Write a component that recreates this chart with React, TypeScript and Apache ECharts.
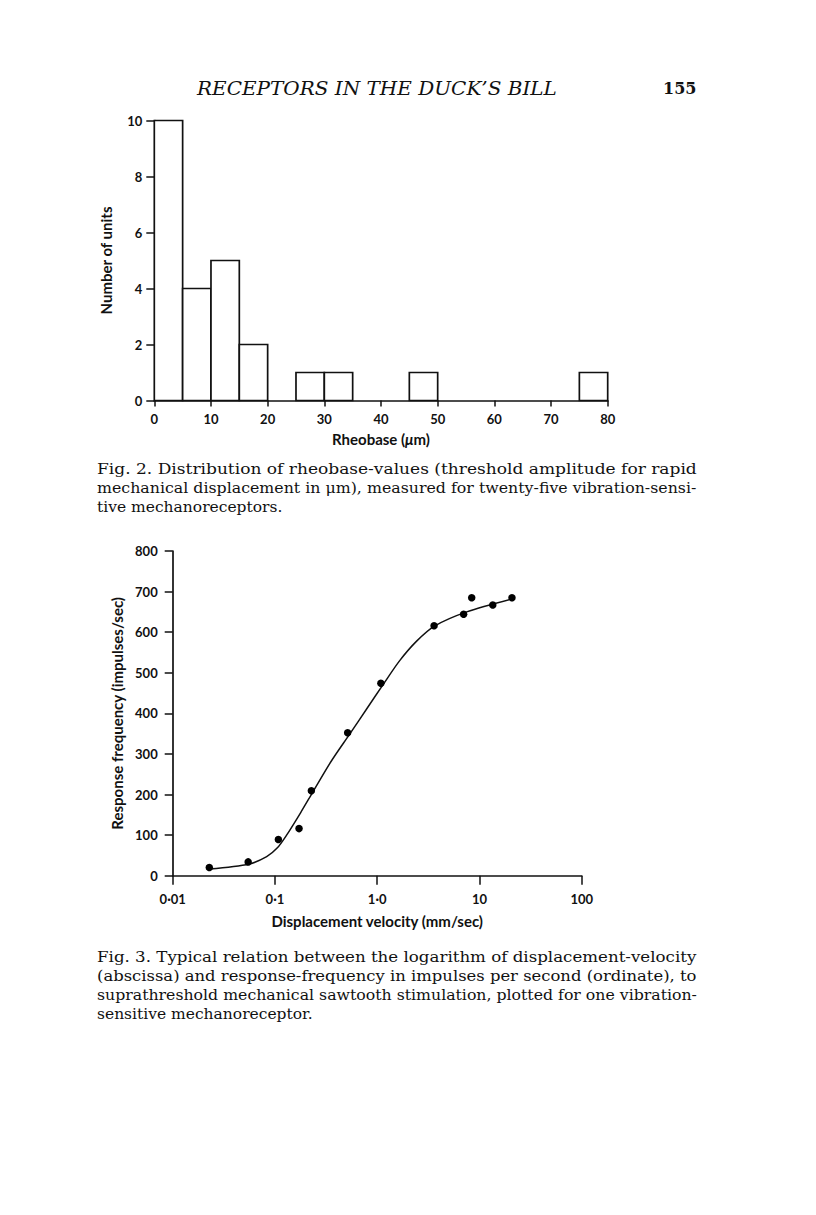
import React, { useEffect, useRef } from "react";
import * as echarts from "echarts";

// ---------- Fig. 2 data (histogram) ----------
const binStarts = [0, 5, 10, 15, 20, 25, 30, 35, 40, 45, 50, 55, 60, 65, 70, 75];
const binCounts = [10, 4, 5, 2, 0, 1, 1, 0, 0, 1, 0, 0, 0, 0, 0, 1];
const binWidth = 5;

// ---------- Fig. 3 data ----------
const velocity = [0.0228, 0.0547, 0.108, 0.172, 0.227, 0.514, 1.086, 3.6, 7.0, 8.4, 13.5, 20.8];
const response = [20, 34, 89, 116, 209, 352, 474, 616, 644, 685, 667, 685];
// fitted curve
const curveX = [0.0229, 0.0562, 0.083, 0.105, 0.13, 0.178, 0.237, 0.355, 0.542, 0.794, 1.15, 1.66, 2.43, 3.63, 7.5, 20.9];
const curveY = [16.5, 29, 47, 68, 100, 155, 208, 282, 350, 412, 472, 530, 578, 615, 650, 682];

const logTickValues = [0.01, 0.1, 1, 10, 100];
const logTickLabels = ["0·01", "0·1", "1·0", "10", "100"];

const header = "RECEPTORS IN THE DUCK’S BILL";
const pageNumber = "155";
const fig2Caption = [
  "Fig. 2. Distribution of rheobase-values (threshold amplitude for rapid",
  "mechanical displacement in μm), measured for twenty-five vibration-sensi-",
  "tive mechanoreceptors.",
];
const fig3Caption = [
  "Fig. 3. Typical relation between the logarithm of displacement-velocity",
  "(abscissa) and response-frequency in impulses per second (ordinate), to",
  "suprathreshold mechanical sawtooth stimulation, plotted for one vibration-",
  "sensitive mechanoreceptor.",
];

const INK = "#111";
const LABEL_FONT = "Lato";
const SERIF = "DejaVu Serif";

function measure(text: string, font: string): number {
  const ctx = document.createElement("canvas").getContext("2d");
  if (!ctx) return 0;
  ctx.font = font;
  return ctx.measureText(text).width;
}

export default function App() {
  const ref = useRef<HTMLDivElement>(null);

  useEffect(() => {
    if (!ref.current) return;
    const chart = echarts.init(ref.current, null, { renderer: "svg" });

    const axisLine = { show: true, lineStyle: { color: INK, width: 1.7 } };
    const labelStyle = { color: INK, fontFamily: LABEL_FONT, fontWeight: "bold" as const, fontSize: 13 };
    const nameStyle = { color: INK, fontFamily: LABEL_FONT, fontWeight: "bold" as const, fontSize: 15 };

    const histData = binStarts
      .map((s, i) => [s, s + binWidth, binCounts[i]])
      .filter((d) => d[2] > 0);

    const capFont = `15.5px "${SERIF}"`;
    const textLeft = 97;
    const textWidth = 600;
    const makeCaption = (lines: string[], y0: number) =>
      lines.map((t, i) => {
        const w = measure(t, capFont);
        const last = i === lines.length - 1;
        const sx = !last && w > 0 ? textWidth / w : 1;
        return {
          type: "text",
          x: textLeft,
          y: y0 + i * 19,
          scaleX: sx,
          style: { text: t, fill: INK, font: capFont, align: "left", verticalAlign: "middle" },
        };
      });

    const headFont = `italic 18px "${SERIF}"`;
    const headW = measure(header, headFont);
    const headScale = headW > 0 ? 360 / headW : 1;

    chart.setOption({
      animation: false,
      backgroundColor: "#fff",
      grid: [
        { left: 154.3, top: 120.5, width: 453.4, height: 280 },
        { left: 172.7, top: 551, width: 409, height: 324.7 },
      ],
      xAxis: [
        {
          type: "value",
          gridIndex: 0,
          min: 0,
          max: 80,
          interval: 10,
          axisLine,
          axisTick: { show: true, inside: false, length: 6, lineStyle: { color: INK, width: 1.5 } },
          axisLabel: { ...labelStyle, margin: 12 },
          splitLine: { show: false },
          name: "Rheobase ({i|μ}m)",
          nameLocation: "middle",
          nameGap: 31,
          nameTextStyle: {
            ...nameStyle,
            rich: { i: { ...nameStyle, fontStyle: "italic" } },
          },
        },
        {
          type: "log",
          gridIndex: 1,
          logBase: 10,
          min: 0.01,
          max: 100,
          axisLine,
          axisTick: { show: true, inside: false, length: 9, lineStyle: { color: INK, width: 1.5 } },
          minorTick: { show: false },
          axisLabel: {
            ...labelStyle,
            margin: 17,
            formatter: (v: number) => {
              const idx = logTickValues.findIndex((t) => Math.abs(Math.log10(t) - Math.log10(v)) < 1e-6);
              return idx >= 0 ? logTickLabels[idx] : "";
            },
          },
          splitLine: { show: false },
          name: "Displacement velocity (mm/sec)",
          nameLocation: "middle",
          nameGap: 38,
          nameTextStyle: nameStyle,
        },
      ],
      yAxis: [
        {
          type: "value",
          gridIndex: 0,
          min: 0,
          max: 10,
          interval: 2,
          axisLine,
          axisTick: { show: true, inside: false, length: 8, lineStyle: { color: INK, width: 1.5 } },
          axisLabel: { ...labelStyle, margin: 12 },
          splitLine: { show: false },
          name: "Number of units",
          nameLocation: "middle",
          nameGap: 41,
          nameTextStyle: nameStyle,
        },
        {
          type: "value",
          gridIndex: 1,
          min: 0,
          max: 800,
          interval: 100,
          axisLine,
          axisTick: { show: true, inside: false, length: 8, lineStyle: { color: INK, width: 1.5 } },
          axisLabel: { ...labelStyle, margin: 15 },
          splitLine: { show: false },
          name: "Response frequency (impulses/sec)",
          nameLocation: "middle",
          nameGap: 45,
          nameTextStyle: nameStyle,
        },
      ],
      series: [
        {
          type: "custom",
          xAxisIndex: 0,
          yAxisIndex: 0,
          data: histData,
          encode: { x: [0, 1], y: 2 },
          renderItem: (_params: any, api: any) => {
            const p0 = api.coord([api.value(0), 0]);
            const p1 = api.coord([api.value(1), api.value(2)]);
            return {
              type: "rect",
              shape: { x: p0[0], y: p1[1], width: p1[0] - p0[0], height: p0[1] - p1[1] },
              style: { fill: "#fff", stroke: INK, lineWidth: 1.7 },
            };
          },
          z: 1,
        },
        {
          type: "line",
          xAxisIndex: 1,
          yAxisIndex: 1,
          data: curveX.map((x, i) => [x, curveY[i]]),
          smooth: 0.3,
          showSymbol: false,
          symbol: "none",
          lineStyle: { color: INK, width: 1.5 },
          z: 3,
        },
        {
          type: "scatter",
          xAxisIndex: 1,
          yAxisIndex: 1,
          data: velocity.map((x, i) => [x, response[i]]),
          symbol: "circle",
          symbolSize: 7.5,
          itemStyle: { color: "#000", opacity: 1 },
          z: 4,
        },
      ],
      graphic: [
        {
          type: "text",
          x: 197,
          y: 88,
          scaleX: headScale,
          style: { text: header, fill: INK, font: headFont, align: "left", verticalAlign: "middle" },
        },
        {
          type: "text",
          x: 663,
          y: 88,
          style: { text: pageNumber, fill: INK, font: `bold 16px "${SERIF}"`, align: "left", verticalAlign: "middle" },
        },
        ...makeCaption(fig2Caption, 469),
        ...makeCaption(fig3Caption, 957),
      ],
    });

    return () => chart.dispose();
  }, []);

  return (
    <div
      ref={ref}
      style={{ position: "absolute", left: 0, top: 0, width: 816, height: 1215, background: "#fff" }}
    />
  );
}
